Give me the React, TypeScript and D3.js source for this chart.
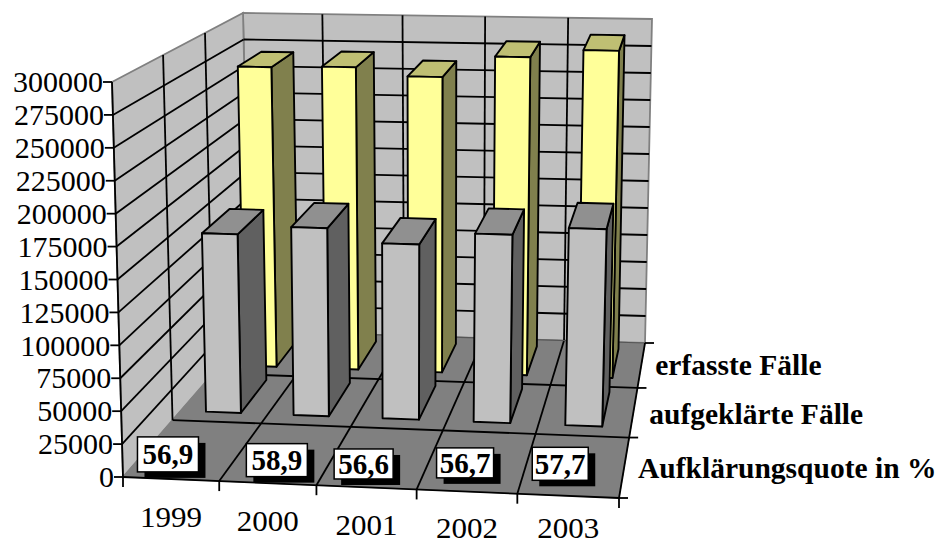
import React from "react";
import * as d3 from "d3";

const years = ["1999", "2000", "2001", "2002", "2003"];
const erfassteFaelle = [267000, 268500, 261500, 280700, 288000];
const aufgeklaerteFaelle = [148600, 156000, 145000, 155500, 162500];
const quoten = ["56,9", "58,9", "56,6", "56,7", "57,7"];
const valueTicks = d3.range(0, 300001, 25000);
const rowNames = ["Aufklärungsquote in %", "aufgeklärte Fälle", "erfasste Fälle"];

const SERIF = "'Liberation Serif', 'Times New Roman', serif";

// Corners of the plot box on screen: [front|back][left|right][bottom|top]
const box = {
  flb: [123, 477], flt: [112, 82], frb: [619, 498], frt: [630, 100],
  blb: [250, 331], blt: [243, 13], brb: [645, 343], brt: [652, 19],
};

const uScale = d3.scaleLinear().domain([0, 1, 2, 3, 4, 5]).range([0, 0.194, 0.39, 0.592, 0.795, 1]);
const vScale = d3.scaleLinear().domain([0, 300000]).range([0, 1]);
const wScale = d3.scaleLinear().domain([0, 1, 2, 3]).range([0, 0.39, 0.71, 1]);

type P = [number, number];
const mix = (a: number[], b: number[], t: number): P => [a[0] + (b[0] - a[0]) * t, a[1] + (b[1] - a[1]) * t];

// Maps (category position, case count, depth row position) onto the screen.
function project(cat: number, value: number, row: number): P {
  const u = uScale(cat), v = vScale(value), w = wScale(row);
  const fb = mix(box.flb, box.frb, u), ft = mix(box.flt, box.frt, u);
  const bb = mix(box.blb, box.brb, u), bt = mix(box.blt, box.brt, u);
  return mix(mix(fb, ft, v), mix(bb, bt, v), w);
}

const poly = (pts: P[]) => d3.line()(pts)! + "Z";
const seg = (a: P, b: P) => d3.line()([a, b])!;

type Look = { front: string; side: string; top: string };
const yellowLook: Look = { front: "#FFFF99", side: "#80804D", top: "#BFBF73" };
const grayLook: Look = { front: "#C0C0C0", side: "#606060", top: "#909090" };

function Bar({ i, value, r0, r1, look }: { i: number; value: number; r0: number; r1: number; look: Look }) {
  const a = i + 0.29, b = i + 0.69;
  const common = { stroke: "#000", strokeWidth: 1.9, strokeLinejoin: "round" as const };
  return (
    <g>
      <path d={poly([project(b, 0, r0), project(b, 0, r1), project(b, value, r1), project(b, value, r0)])} fill={look.side} {...common} />
      <path d={poly([project(a, value, r0), project(b, value, r0), project(b, value, r1), project(a, value, r1)])} fill={look.top} {...common} />
      <path d={poly([project(a, 0, r0), project(b, 0, r0), project(b, value, r0), project(a, value, r0)])} fill={look.front} {...common} />
    </g>
  );
}

// Offsets for the percentage boxes, which do not sit centred in their floor cells.
const quotaBoxes = [
  { dx: -26, dy: 4, w: 61, h: 35 },
  { dx: -10, dy: 6, w: 61, h: 33 },
  { dx: -18, dy: 6, w: 59, h: 30 },
  { dx: -13, dy: 1, w: 57, h: 30 },
  { dx: -15, dy: -2, w: 56, h: 33 },
];

export default function App() {
  const line = { stroke: "#000", strokeWidth: 1.8, fill: "none" };
  return (
    <svg width={946} height={545} style={{ position: "absolute", left: 0, top: 0, display: "block", background: "#fff" }}>
      {/* walls and floor */}
      <path d={poly([project(0, 0, 3), project(5, 0, 3), project(5, 300000, 3), project(0, 300000, 3)])} fill="#C0C0C0" stroke="#808080" strokeWidth={1.8} />
      <path d={poly([project(0, 0, 0), project(0, 0, 3), project(0, 300000, 3), project(0, 300000, 0)])} fill="#C0C0C0" stroke="#808080" strokeWidth={1.8} />
      <path d={poly([project(0, 0, 0), project(5, 0, 0), project(5, 0, 3), project(0, 0, 3)])} fill="#808080" stroke="#808080" strokeWidth={1} />

      {/* grid on the walls */}
      {valueTicks.slice(1, -1).map((t) => (
        <g key={t} {...line}>
          <path d={seg(project(0, t, 0), project(0, t, 3))} />
          <path d={seg(project(0, t, 3), project(5, t, 3))} />
        </g>
      ))}
      {[1, 2].map((r) => (
        <path key={r} d={seg(project(0, 0, r), project(0, 300000, r))} {...line} />
      ))}
      {[1, 2, 3, 4].map((c) => (
        <path key={c} d={seg(project(c, 0, 3), project(c, 300000, 3))} {...line} />
      ))}

      {/* grid on the floor */}
      {[1, 2, 3, 4].map((c) => (
        <path key={c} d={seg(project(c, 0, 0), project(c, 0, 3))} {...line} />
      ))}
      {[1, 2].map((r) => (
        <path key={r} d={seg(project(0, 0, r), project(5, 0, r))} {...line} />
      ))}
      <path d={seg(project(0, 0, 3), project(5, 0, 3))} stroke="#555" strokeWidth={1.2} />

      {/* bars, back row first */}
      {erfassteFaelle.map((v, i) => (
        <Bar key={i} i={i} value={v} r0={2.2} r1={2.85} look={yellowLook} />
      ))}
      {aufgeklaerteFaelle.map((v, i) => (
        <Bar key={i} i={i} value={v} r0={1.2} r1={1.9} look={grayLook} />
      ))}

      {/* axes and tick marks */}
      <path d={seg(project(0, 0, 0), project(0, 300000, 0))} {...line} />
      <path d={seg(project(0, 0, 0), project(5, 0, 0))} {...line} />
      <path d={seg(project(5, 0, 0), project(5, 0, 3))} {...line} />
      {valueTicks.map((t) => {
        const [x, y] = project(0, t, 0);
        return (
          <g key={t}>
            <path d={seg([x - 9, y], [x, y])} {...line} />
            <text x={x - 9} y={y} dy="0.34em" textAnchor="end" fontFamily={SERIF} fontSize={30}>{t}</text>
          </g>
        );
      })}
      {d3.range(0, 6).map((c) => {
        const [x, y] = project(c, 0, 0);
        return <path key={c} d={seg([x, y], [x, y + 10])} {...line} />;
      })}
      {d3.range(0, 4).map((r) => {
        const [x, y] = project(5, 0, r);
        return <path key={r} d={seg([x, y], [x + 9, y])} {...line} />;
      })}
      {years.map((yr, i) => {
        const [x, y] = project(i + 0.5, 0, 0);
        // the lowest year labels are held back so they stay inside the drawing
        return (
          <text key={yr} x={x} y={Math.min(y + 48, 538)} textAnchor="middle" fontFamily={SERIF} fontSize={30} textLength={62} lengthAdjust="spacingAndGlyphs">{yr}</text>
        );
      })}

      {/* row names on the right */}
      {rowNames.map((name, r) => {
        const [x, y] = project(5, 0, r + 0.5);
        const nudge = [[14, 10], [16, 11], [14, 10]][r];
        return (
          <text key={name} x={x + nudge[0]} y={y + nudge[1]} fontFamily={SERIF} fontSize={29.5} fontWeight="bold">{name}</text>
        );
      })}

      {/* percentage boxes in the front row */}
      {quoten.map((q, i) => {
        const [cx, cy] = project(i + 0.5, 0, 0.5);
        const b = quotaBoxes[i];
        const x = cx + b.dx - b.w / 2;
        const y = cy + b.dy - b.h / 2;
        return (
          <g key={q}>
            <rect x={x + 7} y={y + 6} width={b.w} height={b.h} fill="#000" />
            <rect x={x} y={y} width={b.w} height={b.h} fill="#fff" stroke="#000" strokeWidth={1.5} />
            <text x={x + b.w / 2} y={y + b.h / 2} dy="0.34em" textAnchor="middle" fontFamily={SERIF} fontSize={29} fontWeight="bold">{q}</text>
          </g>
        );
      })}
    </svg>
  );
}
